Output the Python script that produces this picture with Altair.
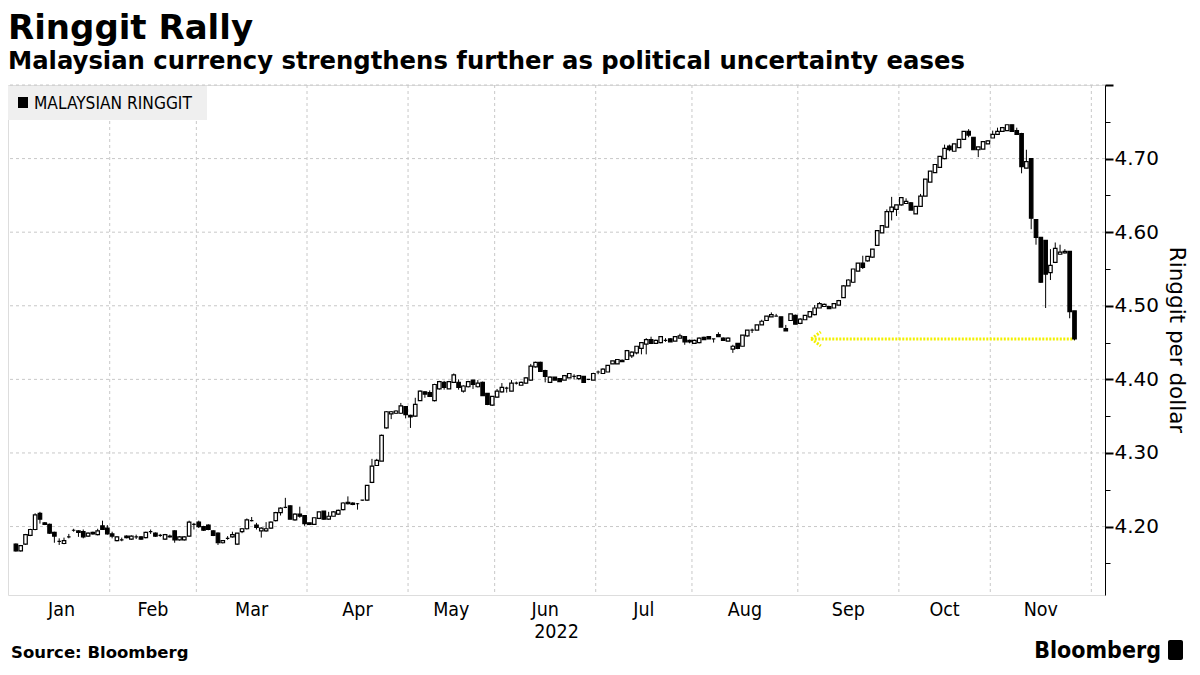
import altair as alt
import pandas as pd

# ---------------- data ----------------
MONTHS = ["Jan", "Feb", "Mar", "Apr", "May", "Jun", "Jul", "Aug", "Sep", "Oct", "Nov"]
MONTH_SLOTS = [20, 18, 23, 21, 18, 21, 20, 22, 21, 19, 21]  # trading-day slots per month

OPEN = [
    # Jan
    4.176, 4.167, 4.176, 4.188, 4.196, 4.218, 4.205, 4.203, 4.192, 4.180, 4.177, 4.186, 4.195, 4.194, 4.193, 4.187, 4.192, 4.189, 4.201, 4.198,
    # Feb
    4.190, 4.181, 4.182, 4.187, 4.183, 4.186, 4.186, 4.185, 4.193, 4.191, 4.188, 4.183, 4.187, 4.194, 4.182, 4.182, 4.187, 4.203,
    # Mar
    4.206, 4.200, 4.202, 4.194, 4.191, 4.178, 4.184, 4.186, 4.176, 4.193, 4.197, 4.208, 4.202, 4.194, 4.194, 4.198, 4.208, 4.219, 4.226, 4.228, 4.209, 4.217, 4.215,
    # Apr
    4.205, 4.203, 4.211, 4.221, 4.210, 4.214, 4.217, 4.223, 4.233, 4.232, 4.231, 4.236, 4.236, 4.260, 4.283, 4.289, 4.334, 4.353, 4.354, 4.354, 4.363,
    # May
    4.351, 4.350, 4.371, 4.383, 4.382, 4.371, 4.387, 4.396, 4.387, 4.396, 4.396, 4.384, 4.390, 4.399, 4.390, 4.396, 4.381, 4.365,
    # Jun
    4.376, 4.383, 4.388, 4.384, 4.395, 4.392, 4.395, 4.399, 4.417, 4.423, 4.412, 4.396, 4.403, 4.401, 4.399, 4.402, 4.404, 4.401, 4.404, 4.400, 4.399,
    # Jul
    4.410, 4.408, 4.410, 4.421, 4.421, 4.426, 4.427, 4.432, 4.436, 4.442, 4.448, 4.454, 4.449, 4.450, 4.453, 4.455, 4.452, 4.456, 4.458, 4.453,
    # Aug
    4.449, 4.450, 4.457, 4.458, 4.455, 4.461, 4.456, 4.452, 4.441, 4.449, 4.445, 4.459, 4.467, 4.467, 4.474, 4.480, 4.485, 4.486, 4.485, 4.469, 4.480, 4.487,
    # Sep
    4.476, 4.481, 4.485, 4.488, 4.497, 4.499, 4.499, 4.497, 4.501, 4.511, 4.527, 4.532, 4.547, 4.558, 4.561, 4.566, 4.582, 4.599, 4.607, 4.628, 4.631,
    # Oct
    4.637, 4.639, 4.640, 4.625, 4.635, 4.649, 4.668, 4.681, 4.688, 4.700, 4.717, 4.710, 4.715, 4.726, 4.737, 4.729, 4.712, 4.713, 4.720,
    # Nov
    4.728, 4.733, 4.737, 4.738, 4.746, 4.738, 4.734, 4.687, 4.700, 4.617, 4.593, 4.589, 4.545, 4.559, 4.570, 4.572, 4.574, 4.493,
]
HIGH = [
    4.177, 4.175, 4.190, 4.197, 4.218, 4.220, 4.206, 4.204, 4.193, 4.184, 4.185, 4.190, 4.197, 4.195, 4.196, 4.192, 4.193, 4.197, 4.208, 4.202,
    4.193, 4.187, 4.185, 4.188, 4.188, 4.189, 4.187, 4.193, 4.196, 4.192, 4.190, 4.190, 4.189, 4.195, 4.187, 4.187, 4.208, 4.205,
    4.208, 4.201, 4.203, 4.195, 4.192, 4.181, 4.187, 4.193, 4.191, 4.198, 4.211, 4.213, 4.205, 4.199, 4.206, 4.207, 4.220, 4.226, 4.239, 4.229, 4.218, 4.227, 4.215,
    4.205, 4.212, 4.220, 4.221, 4.220, 4.221, 4.223, 4.233, 4.241, 4.233, 4.232, 4.236, 4.256, 4.292, 4.292, 4.325, 4.357, 4.357, 4.358, 4.368, 4.363,
    4.352, 4.375, 4.385, 4.384, 4.385, 4.394, 4.398, 4.398, 4.398, 4.408, 4.400, 4.392, 4.398, 4.399, 4.399, 4.397, 4.381, 4.377,
    4.387, 4.395, 4.390, 4.399, 4.397, 4.397, 4.403, 4.421, 4.424, 4.424, 4.413, 4.404, 4.403, 4.401, 4.406, 4.408, 4.407, 4.406, 4.404, 4.400, 4.409,
    4.412, 4.415, 4.419, 4.425, 4.427, 4.427, 4.440, 4.438, 4.445, 4.450, 4.456, 4.458, 4.454, 4.458, 4.456, 4.456, 4.458, 4.462, 4.458, 4.454,
    4.454, 4.457, 4.458, 4.458, 4.455, 4.464, 4.457, 4.457, 4.447, 4.449, 4.460, 4.467, 4.469, 4.474, 4.481, 4.486, 4.491, 4.489, 4.485, 4.474, 4.489, 4.488,
    4.483, 4.487, 4.492, 4.501, 4.505, 4.503, 4.500, 4.503, 4.508, 4.528, 4.536, 4.550, 4.558, 4.568, 4.567, 4.577, 4.602, 4.609, 4.631, 4.648, 4.637,
    4.647, 4.646, 4.641, 4.635, 4.652, 4.672, 4.683, 4.692, 4.703, 4.719, 4.719, 4.720, 4.726, 4.737, 4.740, 4.729, 4.716, 4.723, 4.725,
    4.738, 4.742, 4.743, 4.746, 4.746, 4.742, 4.735, 4.712, 4.700, 4.617, 4.593, 4.589, 4.577, 4.586, 4.583, 4.577, 4.574, 4.493,
]
LOW = [
    4.166, 4.166, 4.175, 4.187, 4.195, 4.204, 4.202, 4.190, 4.178, 4.175, 4.176, 4.184, 4.193, 4.186, 4.184, 4.186, 4.189, 4.188, 4.196, 4.189,
    4.184, 4.180, 4.180, 4.184, 4.182, 4.183, 4.182, 4.184, 4.190, 4.186, 4.186, 4.182, 4.185, 4.178, 4.181, 4.181, 4.186, 4.196,
    4.198, 4.194, 4.195, 4.187, 4.175, 4.177, 4.182, 4.185, 4.175, 4.191, 4.196, 4.207, 4.196, 4.185, 4.193, 4.197, 4.207, 4.215, 4.225, 4.210, 4.208, 4.212, 4.201,
    4.202, 4.203, 4.210, 4.209, 4.209, 4.214, 4.216, 4.222, 4.230, 4.229, 4.223, 4.235, 4.235, 4.259, 4.283, 4.289, 4.333, 4.346, 4.353, 4.353, 4.347,
    4.334, 4.349, 4.371, 4.375, 4.376, 4.370, 4.386, 4.386, 4.387, 4.395, 4.386, 4.382, 4.389, 4.387, 4.389, 4.378, 4.365, 4.364,
    4.375, 4.382, 4.382, 4.384, 4.393, 4.392, 4.394, 4.398, 4.416, 4.411, 4.396, 4.395, 4.399, 4.397, 4.399, 4.402, 4.400, 4.399, 4.396, 4.399, 4.399,
    4.407, 4.408, 4.410, 4.421, 4.421, 4.424, 4.427, 4.429, 4.434, 4.434, 4.434, 4.448, 4.449, 4.449, 4.451, 4.451, 4.452, 4.456, 4.447, 4.449,
    4.449, 4.449, 4.454, 4.455, 4.450, 4.458, 4.453, 4.452, 4.436, 4.441, 4.445, 4.458, 4.463, 4.467, 4.474, 4.480, 4.485, 4.486, 4.471, 4.466, 4.480, 4.475,
    4.475, 4.481, 4.484, 4.487, 4.497, 4.499, 4.496, 4.497, 4.501, 4.511, 4.527, 4.531, 4.547, 4.550, 4.560, 4.565, 4.582, 4.599, 4.607, 4.616, 4.622,
    4.636, 4.639, 4.630, 4.625, 4.635, 4.649, 4.668, 4.681, 4.688, 4.699, 4.710, 4.710, 4.715, 4.726, 4.729, 4.712, 4.702, 4.713, 4.720,
    4.728, 4.733, 4.737, 4.738, 4.737, 4.732, 4.680, 4.687, 4.604, 4.583, 4.531, 4.497, 4.535, 4.558, 4.570, 4.571, 4.483, 4.453,
]
CLOSE = [
    4.167, 4.174, 4.189, 4.196, 4.216, 4.210, 4.203, 4.191, 4.187, 4.180, 4.181, 4.186, 4.195, 4.192, 4.186, 4.191, 4.190, 4.194, 4.196, 4.190,
    4.187, 4.186, 4.182, 4.185, 4.187, 4.186, 4.183, 4.192, 4.193, 4.187, 4.188, 4.189, 4.186, 4.182, 4.186, 4.186, 4.206, 4.203,
    4.200, 4.195, 4.196, 4.188, 4.178, 4.181, 4.184, 4.189, 4.191, 4.197, 4.209, 4.208, 4.199, 4.198, 4.197, 4.206, 4.219, 4.225, 4.226, 4.210, 4.217, 4.214, 4.204,
    4.203, 4.212, 4.220, 4.210, 4.214, 4.220, 4.222, 4.232, 4.231, 4.230, 4.231, 4.236, 4.256, 4.282, 4.290, 4.324, 4.356, 4.356, 4.357, 4.364, 4.352,
    4.349, 4.366, 4.384, 4.380, 4.377, 4.393, 4.397, 4.389, 4.397, 4.406, 4.389, 4.391, 4.397, 4.393, 4.395, 4.378, 4.366, 4.377,
    4.384, 4.389, 4.388, 4.395, 4.395, 4.396, 4.402, 4.418, 4.423, 4.411, 4.404, 4.403, 4.399, 4.397, 4.405, 4.408, 4.404, 4.405, 4.396, 4.400, 4.408,
    4.410, 4.414, 4.419, 4.425, 4.427, 4.424, 4.439, 4.437, 4.445, 4.450, 4.454, 4.449, 4.453, 4.458, 4.453, 4.451, 4.458, 4.459, 4.451, 4.451,
    4.453, 4.456, 4.454, 4.455, 4.455, 4.458, 4.453, 4.456, 4.445, 4.442, 4.460, 4.467, 4.467, 4.474, 4.479, 4.486, 4.488, 4.486, 4.471, 4.466, 4.489, 4.475,
    4.482, 4.487, 4.492, 4.497, 4.503, 4.502, 4.496, 4.503, 4.507, 4.527, 4.535, 4.550, 4.558, 4.552, 4.567, 4.577, 4.602, 4.609, 4.628, 4.634, 4.637,
    4.647, 4.642, 4.630, 4.635, 4.649, 4.672, 4.683, 4.692, 4.703, 4.714, 4.712, 4.720, 4.726, 4.737, 4.732, 4.712, 4.716, 4.723, 4.724,
    4.733, 4.737, 4.742, 4.746, 4.737, 4.733, 4.689, 4.696, 4.619, 4.593, 4.532, 4.543, 4.555, 4.578, 4.573, 4.574, 4.492, 4.455,
]

Y_TICKS = [4.15, 4.20, 4.25, 4.30, 4.35, 4.40, 4.45, 4.50, 4.55, 4.60, 4.65, 4.70, 4.75, 4.80]
Y_GRID = [4.20, 4.30, 4.40, 4.50, 4.60, 4.70, 4.80]
Y_DOMAIN = [4.107, 4.80]
X_DOMAIN = [-0.6, 225.3]

ARROW_Y = 4.455
ARROW_FROM = 165.3
ARROW_TO = 220

TITLE = "Ringgit Rally"
SUBTITLE = "Malaysian currency strengthens further as political uncertainty eases"
LEGEND = "MALAYSIAN RINGGIT"
YEAR = "2022"
Y_TITLE = "Ringgit per dollar"
SOURCE = "Source: Bloomberg"
BRAND = "Bloomberg"

# ---------------- build ----------------
W, H = 1097, 510
n = min(len(OPEN), len(HIGH), len(LOW), len(CLOSE))
df = pd.DataFrame({
    "i": list(range(n)),
    "open": OPEN[:n], "high": HIGH[:n], "low": LOW[:n], "close": CLOSE[:n],
})
df["up"] = df["close"] >= df["open"]

bounds, mids, c = [], [], 0
for s in MONTH_SLOTS:
    mids.append(c + (s - 1) / 2)
    c += s
    bounds.append(c - 0.5)
gx = pd.DataFrame({"b": bounds})
mlab = pd.DataFrame({"m": MONTHS, "x": mids})
gy = pd.DataFrame({"v": Y_GRID})

xs = alt.Scale(domain=X_DOMAIN, nice=False, zero=False)
ys = alt.Scale(domain=Y_DOMAIN, nice=False, zero=False)

major = "round(datum.value*100) % 10 == 0"
yaxis = alt.Axis(
    orient="right", values=Y_TICKS, grid=False, title=None,
    labelExpr="(round(datum.value*100) % 10 == 0 && datum.value < 4.75) ? format(datum.value, '.2f') : ''",
    domainColor="black", domainWidth=1, tickColor="black",
    tickSize={"condition": {"test": major, "value": 8}, "value": 5},
    tickWidth={"condition": {"test": major, "value": 2}, "value": 1},
    labelFont="DejaVu Sans", labelFontSize=20, labelColor="black",
    labelPadding=1, labelOverlap=False, labelFlush=False,
)

GRID_COLOR = "#c8c8c8"
hgrid = alt.Chart(gy).mark_rule(color=GRID_COLOR, strokeDash=[3, 3], strokeWidth=1).encode(
    y=alt.Y("v:Q", scale=ys, axis=yaxis)
)
vgrid = alt.Chart(gx).mark_rule(color=GRID_COLOR, strokeDash=[3, 3], strokeWidth=1).encode(
    x=alt.X("b:Q", scale=xs, axis=None)
)

legend_df = pd.DataFrame({"t": [LEGEND]})
legend_box = alt.Chart(legend_df).mark_rect(color="#efefef").encode(
    x=alt.value(0), x2=alt.value(199), y=alt.value(1), y2=alt.value(35)
)
legend_sq = alt.Chart(legend_df).mark_rect(color="black").encode(
    x=alt.value(10), x2=alt.value(20), y=alt.value(12), y2=alt.value(23)
)
legend_txt = alt.Chart(legend_df).mark_text(
    align="left", baseline="alphabetic", font="DejaVu Sans Condensed, DejaVu Sans", fontSize=17.2, color="black"
).encode(x=alt.value(26), y=alt.value(24), text="t:N")

wicks = alt.Chart(df).mark_rule(color="black", strokeWidth=1).encode(
    x=alt.X("i:Q", scale=xs, axis=None),
    y=alt.Y("low:Q", scale=ys, axis=yaxis),
    y2="high:Q",
)
bodies = alt.Chart(df).mark_bar(size=3.5, stroke="black", strokeWidth=1.2).encode(
    x=alt.X("i:Q", scale=xs, axis=None),
    y=alt.Y("open:Q", scale=ys, axis=yaxis),
    y2="close:Q",
    fill=alt.condition("datum.up", alt.value("white"), alt.value("black")),
)

arrow_df = pd.DataFrame({"x1": [ARROW_FROM], "x2": [ARROW_TO], "y": [ARROW_Y]})
arrow_line = alt.Chart(arrow_df).mark_rule(color="#f2f000", strokeWidth=3, strokeDash=[2, 1.5]).encode(
    x=alt.X("x1:Q", scale=xs, axis=None), x2="x2:Q", y=alt.Y("y:Q", scale=ys, axis=yaxis)
)
arrow_head = alt.Chart(arrow_df).mark_point(
    shape="M0,0L1.5,-1.1M0,0L1.5,1.1", size=160, filled=False, color="#f2f000",
    strokeWidth=3, strokeDash=[2, 1.5], opacity=1,
).encode(x=alt.X("x1:Q", scale=xs, axis=None), y=alt.Y("y:Q", scale=ys, axis=yaxis))

month_text = alt.Chart(mlab).mark_text(
    align="center", baseline="alphabetic", font="DejaVu Sans Condensed, DejaVu Sans", fontSize=19.5, color="black"
).encode(x=alt.X("x:Q", scale=xs, axis=None), y=alt.value(H + 21), text="m:N")

one = lambda t: pd.DataFrame({"t": [t]})
year_text = alt.Chart(one(YEAR)).mark_text(
    align="center", baseline="alphabetic", font="DejaVu Sans Condensed, DejaVu Sans", fontSize=19.5, color="black"
).encode(x=alt.value(W / 2), y=alt.value(H + 43), text="t:N")

title_text = alt.Chart(one(TITLE)).mark_text(
    align="left", baseline="alphabetic", font="DejaVu Sans", fontWeight="bold", fontSize=34, color="black"
).encode(x=alt.value(0), y=alt.value(-46), text="t:N")
subtitle_text = alt.Chart(one(SUBTITLE)).mark_text(
    align="left", baseline="alphabetic", font="DejaVu Sans", fontWeight="bold", fontSize=24.3, color="black"
).encode(x=alt.value(0), y=alt.value(-16), text="t:N")
ytitle_text = alt.Chart(one(Y_TITLE)).mark_text(
    align="center", baseline="middle", angle=90, font="DejaVu Sans", fontSize=21.5, color="black"
).encode(x=alt.value(W + 71), y=alt.value(H / 2), text="t:N")
source_text = alt.Chart(one(SOURCE)).mark_text(
    align="left", baseline="alphabetic", font="DejaVu Sans", fontWeight="bold", fontSize=16.5, color="black"
).encode(x=alt.value(3), y=alt.value(H + 63), text="t:N")
brand_text = alt.Chart(one(BRAND)).mark_text(
    align="right", baseline="alphabetic", font="DejaVu Sans Condensed, DejaVu Sans", fontWeight="bold",
    fontSize=23, color="black"
).encode(x=alt.value(W + 56), y=alt.value(H + 63), text="t:N")
brand_icon = alt.Chart(one(BRAND)).mark_rect(color="black", cornerRadius=2).encode(
    x=alt.value(W + 63), x2=alt.value(W + 78), y=alt.value(H + 45), y2=alt.value(H + 65)
)

chart = alt.layer(
    hgrid, vgrid, legend_box, legend_sq, legend_txt,
    arrow_line, arrow_head, wicks, bodies,
    month_text, year_text, title_text, subtitle_text, ytitle_text,
    source_text, brand_text, brand_icon,
).properties(
    width=W, height=H,
    padding={"left": 0, "top": 77, "right": 87, "bottom": 68},
    autosize=alt.AutoSizeParams(type="none"),
).configure_view(stroke=None).configure(background="white")

chart.save("out.html", embed_options={"renderer": "svg", "actions": False})
